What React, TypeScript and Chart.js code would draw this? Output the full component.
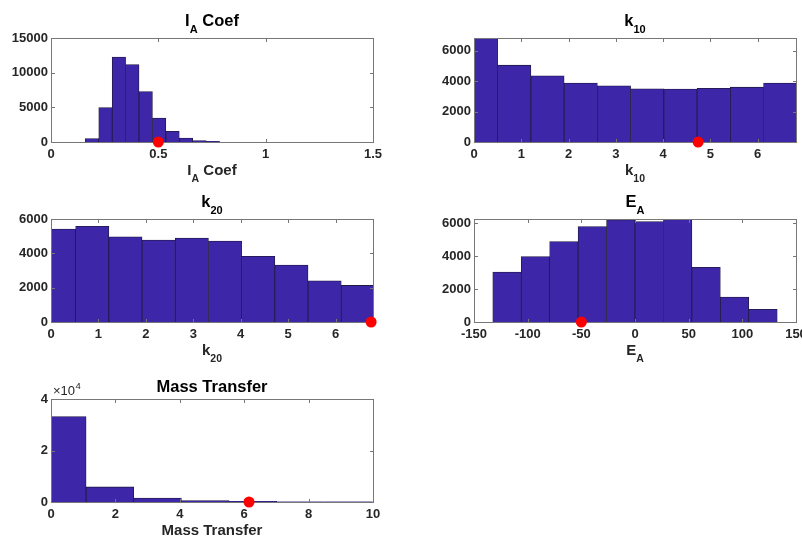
import React, { useEffect, useRef } from 'react';
import { Chart, registerables } from 'chart.js';

Chart.register(...registerables);

// ---------- data ----------
const iaEdges = [0.16, 0.2225, 0.285, 0.3475, 0.41, 0.4725, 0.535, 0.5975, 0.66, 0.7225, 0.785];
const iaCounts = [490, 4960, 12260, 11160, 7270, 3460, 1540, 580, 200, 100];
const iaMarker = 0.5;
const iaXTicks = [0, 0.5, 1, 1.5];
const iaYTicks = [0, 5000, 10000, 15000];

const k10Edges = [-0.203, 0.5, 1.203, 1.906, 2.609, 3.312, 4.015, 4.718, 5.421, 6.124, 6.827];
const k10Counts = [6850, 5060, 4360, 3880, 3700, 3500, 3490, 3540, 3610, 3880];
const k10Marker = 4.74;
const k10XTicks = [0, 1, 2, 3, 4, 5, 6];
const k10YTicks = [0, 2000, 4000, 6000];

const k20Edges = [-0.18, 0.52, 1.22, 1.92, 2.62, 3.32, 4.02, 4.72, 5.42, 6.12, 6.82];
const k20Counts = [5410, 5570, 4960, 4770, 4890, 4710, 3830, 3320, 2400, 2130];
const k20Marker = 6.75;
const k20XTicks = [0, 1, 2, 3, 4, 5, 6];
const k20YTicks = [0, 2000, 4000, 6000];

const eaEdges = [-132.5, -106, -79.5, -53, -26.5, 0, 26.5, 53, 79.5, 106, 132.5];
const eaCounts = [3030, 3980, 4890, 5800, 6210, 6100, 6260, 3320, 1520, 770];
const eaMarker = -50;
const eaXTicks = [-150, -100, -50, 0, 50, 100, 150];
const eaYTicks = [0, 2000, 4000, 6000];

const mtEdges = [-0.39, 1.09, 2.57, 4.05, 5.53, 7.01, 8.49, 9.97, 11.45];
const mtCounts = [33200, 5860, 1560, 550, 250, 100, 60, 30];
const mtMarker = 6.15;
const mtXTicks = [0, 2, 4, 6, 8, 10];
const mtYTicks = [0, 20000, 40000];

// ---------- styling ----------
const FONT = "'Liberation Sans', Arial, Helvetica, sans-serif";
const BAR_FILL = 'rgb(61,39,168)';
const BAR_EDGE = '#1e1a40';
const AXIS_COLOR = '#777777';
const TEXT_COLOR = '#262626';

type Seg = [string, boolean];

interface PanelCfg {
  edges: number[];
  counts: number[];
  marker: number;
  xMin: number;
  xMax: number;
  yMax: number;
  xTicks: number[];
  yTicks: number[];
  yFmt?: (v: number) => string;
  title: Seg[];
  xlabel: Seg[];
  exponent?: string;
  left: number;
  top: number;
  width: number;
  height: number;
  padTop: number;
  padRight: number;
  padBottom: number;
  yAxisWidth: number;
  xAxisHeight: number;
}

function drawSegs(ctx: CanvasRenderingContext2D, segs: Seg[], cx: number, baseline: number, size: number, subSize: number) {
  const widths = segs.map(([t, sub]) => {
    ctx.font = `bold ${sub ? subSize : size}px ${FONT}`;
    return ctx.measureText(t).width;
  });
  const total = widths.reduce((a, b) => a + b, 0);
  let x = cx - total / 2;
  ctx.textAlign = 'left';
  ctx.textBaseline = 'alphabetic';
  segs.forEach(([t, sub], i) => {
    ctx.font = `bold ${sub ? subSize : size}px ${FONT}`;
    ctx.fillText(t, x, sub ? baseline + 7 : baseline);
    x += widths[i];
  });
}

function makePlugin(cfg: PanelCfg) {
  return {
    id: 'matlabAxes',
    afterDatasetDraw(chart: any, args: any) {
      if (args.index !== 0) return;
      const { ctx, chartArea } = chart;
      const L = Math.round(chartArea.left);
      const R = Math.round(chartArea.right);
      const T = Math.round(chartArea.top);
      const B = Math.round(chartArea.bottom);
      ctx.save();
      ctx.strokeStyle = AXIS_COLOR;
      ctx.lineWidth = 1;
      ctx.strokeRect(L + 0.5, T + 0.5, R - L, B - T);
      const tl = 3.5;
      const xs = chart.scales.x;
      const ys = chart.scales.y;
      ctx.beginPath();
      cfg.xTicks.forEach((v) => {
        const p = Math.round(xs.getPixelForValue(v)) + 0.5;
        if (p < L || p > R + 1) return;
        ctx.moveTo(p, B + 0.5);
        ctx.lineTo(p, B + 0.5 - tl);
        ctx.moveTo(p, T + 0.5);
        ctx.lineTo(p, T + 0.5 + tl);
      });
      cfg.yTicks.forEach((v) => {
        const p = Math.round(ys.getPixelForValue(v)) + 0.5;
        ctx.moveTo(L + 0.5, p);
        ctx.lineTo(L + 0.5 + tl, p);
        ctx.moveTo(R + 0.5, p);
        ctx.lineTo(R + 0.5 - tl, p);
      });
      ctx.stroke();
      ctx.restore();
    },
    afterDraw(chart: any) {
      const { ctx, chartArea } = chart;
      const cx = (chartArea.left + chartArea.right) / 2;
      ctx.save();
      ctx.fillStyle = '#000000';
      const hasSub = cfg.title.some((s) => s[1]);
      drawSegs(ctx, cfg.title, cx, chartArea.top - (hasSub ? 12 : 7), 16.5, 11);
      ctx.fillStyle = TEXT_COLOR;
      drawSegs(ctx, cfg.xlabel, cx, chartArea.bottom + 33, 15, 10.5);
      if (cfg.exponent) {
        ctx.textAlign = 'left';
        ctx.textBaseline = 'alphabetic';
        ctx.font = `13px ${FONT}`;
        const base = '\u00d710';
        ctx.fillText(base, chartArea.left + 2, chartArea.top - 4);
        const w = ctx.measureText(base).width;
        ctx.font = `9.5px ${FONT}`;
        ctx.fillText(cfg.exponent, chartArea.left + 2 + w + 0.5, chartArea.top - 10.5);
      }
      ctx.restore();
    },
  };
}

function fmtNum(v: number) {
  return String(Math.round(v * 1000) / 1000);
}

function Panel({ cfg }: { cfg: PanelCfg }) {
  const ref = useRef<HTMLCanvasElement | null>(null);
  useEffect(() => {
    if (!ref.current) return;
    const centers = cfg.counts.map((_, i) => (cfg.edges[i] + cfg.edges[i + 1]) / 2);
    const tickFont = { family: FONT, size: 13, weight: 'bold' as const };
    const chart = new Chart(ref.current, {
      type: 'bar',
      data: {
        datasets: [
          {
            type: 'bar',
            order: 1,
            data: centers.map((c, i) => ({ x: c, y: cfg.counts[i] })),
            backgroundColor: BAR_FILL,
            borderColor: BAR_EDGE,
            borderWidth: 0.8,
            barPercentage: 1,
            categoryPercentage: 1,
            grouped: false,
          } as any,
          {
            type: 'scatter',
            order: 0,
            data: [{ x: cfg.marker, y: 0 }],
            pointRadius: 5.5,
            pointHoverRadius: 5.5,
            backgroundColor: '#ff0000',
            borderWidth: 0,
            clip: false,
          } as any,
        ],
      },
      options: {
        animation: false,
        responsive: false,
        maintainAspectRatio: false,
        events: [],
        layout: { padding: { left: 0, top: cfg.padTop, right: cfg.padRight, bottom: cfg.padBottom } },
        plugins: {
          legend: { display: false },
          tooltip: { enabled: false },
          title: { display: false },
        },
        scales: {
          x: {
            type: 'linear',
            min: cfg.xMin,
            max: cfg.xMax,
            offset: false,
            grid: { display: false, drawTicks: false, tickLength: 0 },
            border: { display: false },
            ticks: {
              font: tickFont,
              color: TEXT_COLOR,
              padding: 5,
              maxRotation: 0,
              autoSkip: false,
              callback: (v: any) => fmtNum(Number(v)),
            },
            afterBuildTicks: (s: any) => {
              s.ticks = cfg.xTicks.map((v) => ({ value: v }));
            },
            afterFit: (s: any) => {
              s.height = cfg.xAxisHeight;
              s.paddingLeft = 0;
              s.paddingRight = 0;
            },
          },
          y: {
            type: 'linear',
            min: 0,
            max: cfg.yMax,
            grid: { display: false, drawTicks: false, tickLength: 0 },
            border: { display: false },
            ticks: {
              font: tickFont,
              color: TEXT_COLOR,
              padding: 3,
              autoSkip: false,
              callback: (v: any) => (cfg.yFmt ? cfg.yFmt(Number(v)) : fmtNum(Number(v))),
            },
            afterBuildTicks: (s: any) => {
              s.ticks = cfg.yTicks.map((v) => ({ value: v }));
            },
            afterFit: (s: any) => {
              s.width = cfg.yAxisWidth;
              s.paddingTop = 0;
              s.paddingBottom = 0;
            },
          },
        },
      } as any,
      plugins: [makePlugin(cfg)],
    });
    return () => chart.destroy();
  }, [cfg]);
  return (
    <canvas
      ref={ref}
      width={cfg.width}
      height={cfg.height}
      style={{ position: 'absolute', left: cfg.left, top: cfg.top, width: cfg.width, height: cfg.height }}
    />
  );
}

const panels: PanelCfg[] = [
  {
    edges: iaEdges, counts: iaCounts, marker: iaMarker,
    xMin: 0, xMax: 1.5, yMax: 15000, xTicks: iaXTicks, yTicks: iaYTicks,
    title: [['I', false], ['A', true], [' Coef', false]],
    xlabel: [['I', false], ['A', true], [' Coef', false]],
    left: 0, top: 0, width: 400, height: 192,
    padTop: 38, padRight: 27, padBottom: 12, yAxisWidth: 51, xAxisHeight: 38,
  },
  {
    edges: k10Edges, counts: k10Counts, marker: k10Marker,
    xMin: 0, xMax: 6.81, yMax: 6850, xTicks: k10XTicks, yTicks: k10YTicks,
    title: [['k', false], ['10', true]],
    xlabel: [['k', false], ['10', true]],
    left: 400, top: 0, width: 402, height: 192,
    padTop: 38, padRight: 6, padBottom: 12, yAxisWidth: 74, xAxisHeight: 38,
  },
  {
    edges: k20Edges, counts: k20Counts, marker: k20Marker,
    xMin: 0, xMax: 6.79, yMax: 6000, xTicks: k20XTicks, yTicks: k20YTicks,
    title: [['k', false], ['20', true]],
    xlabel: [['k', false], ['20', true]],
    left: 0, top: 180, width: 400, height: 192,
    padTop: 39, padRight: 27, padBottom: 12, yAxisWidth: 51, xAxisHeight: 38,
  },
  {
    edges: eaEdges, counts: eaCounts, marker: eaMarker,
    xMin: -150, xMax: 150, yMax: 6260, xTicks: eaXTicks, yTicks: eaYTicks,
    title: [['E', false], ['A', true]],
    xlabel: [['E', false], ['A', true]],
    left: 400, top: 180, width: 402, height: 192,
    padTop: 39, padRight: 6, padBottom: 12, yAxisWidth: 74, xAxisHeight: 38,
  },
  {
    edges: mtEdges, counts: mtCounts, marker: mtMarker,
    xMin: 0, xMax: 10, yMax: 40000, xTicks: mtXTicks, yTicks: mtYTicks,
    yFmt: (v: number) => String(v / 10000),
    title: [['Mass Transfer', false]],
    xlabel: [['Mass Transfer', false]],
    exponent: '4',
    left: 0, top: 360, width: 400, height: 178,
    padTop: 39, padRight: 27, padBottom: 0, yAxisWidth: 51, xAxisHeight: 36,
  },
];

export default function App() {
  return (
    <div style={{ position: 'absolute', left: 0, top: 0, width: 802, height: 538, background: '#ffffff', overflow: 'hidden' }}>
      {panels.map((p, i) => (
        <Panel key={i} cfg={p} />
      ))}
    </div>
  );
}
